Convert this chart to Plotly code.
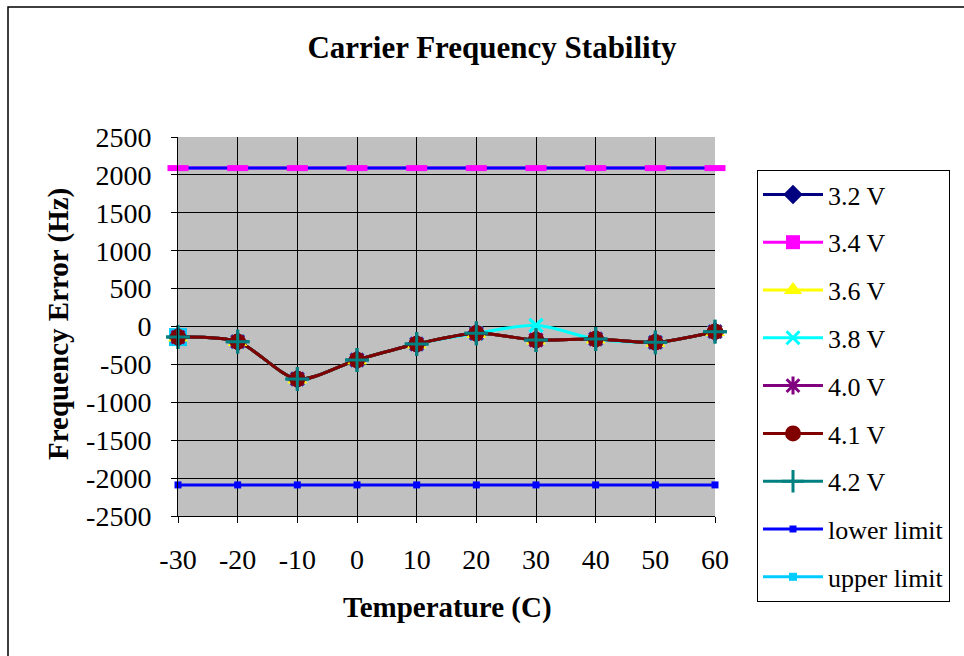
import plotly.graph_objects as go

temps = [-30, -20, -10, 0, 10, 20, 30, 40, 50, 60]
v32 = [-140, -200, -693, -442, -231, -90, -178, -165, -209, -68]
v34 = [2090, 2090, 2090, 2090, 2090, 2090, 2090, 2090, 2090, 2090]
v36 = [-140, -200, -693, -442, -231, -90, -178, -165, -209, -68]
v38 = [-140, -200, -693, -442, -231, -90, 15, -165, -209, -68]
v40 = [-140, -200, -693, -442, -231, -90, -178, -165, -209, -68]
v41 = [-140, -200, -693, -442, -231, -90, -178, -165, -209, -68]
v42 = [-140, -200, -693, -442, -231, -90, -178, -165, -209, -68]
top_line = [2090, 2090, 2090, 2090, 2090, 2090, 2090, 2090, 2090, 2090]
lower_limit = [-2090, -2090, -2090, -2090, -2090, -2090, -2090, -2090, -2090, -2090]
upper_temps = [-30]
upper_limit = [-140]

x_ticks = [-30, -20, -10, 0, 10, 20, 30, 40, 50, 60]
y_ticks = [2500, 2000, 1500, 1000, 500, 0, -500, -1000, -1500, -2000, -2500]

FONT = "Liberation Serif, Times New Roman, serif"

fig = go.Figure()

# big cyan square behind the first data point (upper limit series)
fig.add_trace(go.Scatter(x=upper_temps, y=upper_limit, mode="markers", showlegend=False,
                         marker=dict(symbol="square", size=18, color="#00CCFF"), hoverinfo="skip"))

# 3.4 V legend trace (markers hidden in plot)
fig.add_trace(go.Scatter(x=temps, y=v34, name="3.4 V", mode="lines+markers",
                         line=dict(color="#FF00FF", width=3),
                         marker=dict(symbol="square", size=14, color="#FF00FF"),
                         selectedpoints=[], unselected=dict(marker=dict(opacity=0)),
                         legendrank=2, legendgroup="g2"))
# blue line across the top
fig.add_trace(go.Scatter(x=temps, y=top_line, mode="lines", showlegend=False,
                         line=dict(color="#0000FF", width=3), hoverinfo="skip"))
# magenta bar markers on the top line
fig.add_trace(go.Scatter(x=temps, y=v34, mode="markers", showlegend=False,
                         marker=dict(symbol="line-ew", size=15, color="#FF00FF",
                                     line=dict(color="#FF00FF", width=6)), hoverinfo="skip"))

series = [
    ("3.2 V", v32, "#000080", "diamond", 15, 1),
    ("3.6 V", v36, "#FFFF00", "triangle-up", 17, 3),
    ("3.8 V", v38, "#00FFFF", "x-thin-open", 13, 4),
    ("4.0 V", v40, "#800080", "asterisk-open", 15, 5),
    ("4.1 V", v41, "#800000", "circle", 16, 6),
    ("4.2 V", v42, "#008080", "cross-thin-open", 17, 7),
]

def marker_for(sym, sz, col):
    if sym in ("diamond", "triangle-up", "circle"):
        return dict(symbol=sym, size=sz, color=col)
    return dict(symbol=sym, size=sz, color=col, line=dict(color=col, width=3))

# legend + line traces
for name, ys, col, sym, sz, rank in series:
    fig.add_trace(go.Scatter(x=temps, y=ys, name=name, mode="lines+markers",
                             line=dict(color=col, width=3, shape="spline", smoothing=0.8),
                             marker=marker_for(sym, sz, col),
                             legendrank=rank, legendgroup="g%d" % rank))
# dark red 4.1 V line on top of the other lines
fig.add_trace(go.Scatter(x=temps, y=v41, mode="lines", showlegend=False, hoverinfo="skip",
                         line=dict(color="#800000", width=3, shape="spline", smoothing=0.8)))
# markers on top
for name, ys, col, sym, sz, rank in series:
    fig.add_trace(go.Scatter(x=temps, y=ys, mode="markers", showlegend=False,
                             marker=marker_for(sym, sz, col), hoverinfo="skip"))

fig.add_trace(go.Scatter(x=temps, y=lower_limit, name="lower limit", mode="lines+markers",
                         line=dict(color="#0000FF", width=3),
                         marker=dict(symbol="square", size=7, color="#0000FF"),
                         legendrank=8, legendgroup="g8"))
fig.add_trace(go.Scatter(x=upper_temps, y=upper_limit, name="upper limit", mode="lines+markers",
                         line=dict(color="#00CCFF", width=3),
                         marker=dict(symbol="square", size=8, color="#00CCFF"),
                         selectedpoints=[], unselected=dict(marker=dict(opacity=0)),
                         legendrank=9, legendgroup="g9"))

fig.update_traces(cliponaxis=False)

L, R, T, B = 178, 249, 137, 140
W, H = 964, 656
pw, ph = W - L - R, H - T - B

def px(xp):
    return (xp - L) / pw

def py(yp):
    return 1 - (yp - T) / ph

fig.update_layout(
    width=W, height=H,
    margin=dict(l=L, r=R, t=T, b=B),
    paper_bgcolor="white",
    plot_bgcolor="#C0C0C0",
    font=dict(family=FONT, color="black", size=28),
    title=dict(text="<b>Carrier Frequency Stability</b>", x=492 / W, xanchor="center",
               y=1 - 47 / H, yanchor="middle", font=dict(size=31, family=FONT)),
    showlegend=True,
    hovermode=False,
    legend=dict(x=px(757), y=py(170), xanchor="left", yanchor="top",
                bordercolor="black", borderwidth=1, bgcolor="white",
                font=dict(size=26, family=FONT), itemwidth=60, maxheight=600,
                entrywidth=130, entrywidthmode="pixels",
                tracegroupgap=11, traceorder="grouped"),
    xaxis=dict(range=[-30, 60], tickvals=x_ticks, ticktext=[str(v) for v in x_ticks],
               showgrid=True, gridcolor="black", gridwidth=1, zeroline=False,
               showline=True, linecolor="black", linewidth=1, mirror=False,
               ticks="outside", ticklen=6, tickcolor="black", ticklabelstandoff=12,
               tickfont=dict(size=28, family=FONT)),
    yaxis=dict(range=[-2500, 2500], tickvals=y_ticks, ticktext=[str(v) for v in y_ticks],
               showgrid=True, gridcolor="black", gridwidth=1, zeroline=False,
               showline=True, linecolor="black", linewidth=1,
               ticks="outside", ticklen=6, tickcolor="black", ticklabelstandoff=14,
               tickfont=dict(size=28, family=FONT)),
    annotations=[
        dict(text="<b>Temperature (C)</b>", x=px(447), y=py(607), xref="paper", yref="paper",
             showarrow=False, font=dict(size=29, family=FONT), xanchor="center", yanchor="middle"),
        dict(text="<b>Frequency Error (Hz)</b>", x=px(58), y=py(324), xref="paper", yref="paper",
             showarrow=False, textangle=-90, font=dict(size=29, family=FONT),
             xanchor="center", yanchor="middle"),
    ],
    shapes=[
        dict(type="rect", xref="paper", yref="paper", x0=px(8), y0=py(7), x1=px(975), y1=py(670),
             line=dict(color="black", width=1.5), fillcolor="rgba(0,0,0,0)", layer="below"),
    ],
)

fig.write_html("out.html", config={"displayModeBar": False},
               post_script="document.body.style.margin='0';document.body.style.overflow='hidden';")
